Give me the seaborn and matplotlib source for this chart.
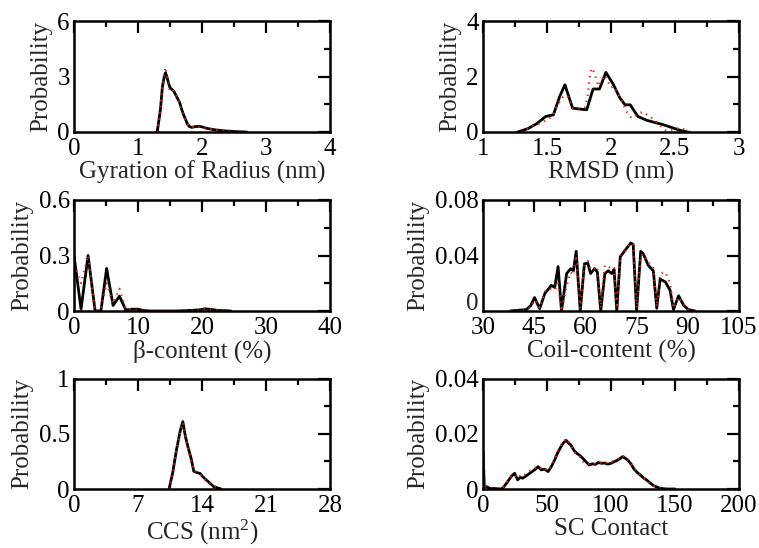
import matplotlib
matplotlib.use("Agg")
import matplotlib.pyplot as plt
import seaborn as sns
from matplotlib.ticker import MultipleLocator, FuncFormatter

# ---------------- data ----------------
rg_x = [1.30, 1.35, 1.38, 1.41, 1.43, 1.45, 1.48, 1.50, 1.53, 1.56, 1.59, 1.62, 1.65, 1.68, 1.71, 1.74, 1.77,
        1.80, 1.84, 1.88, 1.92, 1.96, 2.00, 2.05, 2.10, 2.15, 2.20, 2.25, 2.30, 2.35, 2.40, 2.45, 2.50, 2.55,
        2.60, 2.65, 2.70]
rg_sim = [0.0, 1.2, 2.4, 3.0, 3.2, 3.0, 2.6, 2.4, 2.3, 2.2, 2.0, 1.8, 1.6, 1.25, 0.95, 0.7, 0.45, 0.3, 0.25,
          0.28, 0.3, 0.3, 0.28, 0.22, 0.18, 0.15, 0.12, 0.1, 0.08, 0.06, 0.05, 0.04, 0.03, 0.02, 0.01, 0.005, 0.0]
rg_ref = [0.0, 1.3, 2.5, 3.2, 3.5, 3.1, 2.4, 2.25, 2.35, 2.2, 2.05, 1.75, 1.6, 1.2, 0.9, 0.65, 0.45, 0.32, 0.25,
          0.3, 0.32, 0.28, 0.3, 0.2, 0.19, 0.14, 0.12, 0.09, 0.08, 0.07, 0.04, 0.04, 0.03, 0.02, 0.01, 0.01, 0.0]

rmsd_x = [1.27, 1.35, 1.42, 1.49, 1.55, 1.60, 1.64, 1.70, 1.75, 1.81, 1.86, 1.91, 1.96, 2.02, 2.07, 2.11, 2.15,
          2.21, 2.28, 2.41, 2.54, 2.60]
rmsd_sim = [0.0, 0.12, 0.3, 0.56, 0.62, 1.29, 1.7, 0.86, 0.83, 0.80, 1.55, 1.55, 2.15, 1.7, 1.22, 0.98, 0.98,
            0.56, 0.42, 0.26, 0.06, 0.0]
rmsd_ref_x = [1.30, 1.38, 1.45, 1.52, 1.55, 1.57, 1.60, 1.63, 1.66, 1.70, 1.75, 1.80, 1.82, 1.83, 1.85, 1.87,
              1.90, 1.95, 2.00, 2.02, 2.04, 2.08, 2.12, 2.16, 2.22, 2.25, 2.32, 2.38, 2.43, 2.50, 2.54, 2.58, 2.62]
rmsd_ref = [0.0, 0.2, 0.32, 0.5, 0.62, 0.9, 1.1, 1.3, 1.3, 0.86, 0.85, 0.9, 1.4, 1.9, 2.3, 2.15, 1.65, 2.05,
            1.6, 1.65, 1.5, 1.15, 0.75, 0.5, 0.68, 0.72, 0.5, 0.26, 0.05, 0.1, 0.15, 0.08, 0.0]

beta_x = [0, 1.1, 2.2, 3.3, 4.2, 5.1, 6.1, 7.1, 8.1, 9.0, 10.0, 11.0, 12.0, 14, 16, 17.5, 18.5, 19.5, 20.5,
          21.5, 22.5, 23.5, 24.5]
beta_sim = [0.3, 0.01, 0.3, 0.0, 0.0, 0.23, 0.03, 0.08, 0.005, 0.01, 0.01, 0.002, 0.0, 0.0, 0.0, 0.002, 0.004,
            0.006, 0.012, 0.008, 0.003, 0.002, 0.0]
beta_ref = [0.25, 0.15, 0.3, 0.0, 0.01, 0.15, 0.04, 0.12, 0.01, 0.01, 0.005, 0.002, 0.0, 0.0, 0.0, 0.002, 0.003,
            0.005, 0.01, 0.007, 0.003, 0.001, 0.0]

coil_x = [38.0, 40, 42.7, 44, 45.1, 46.6, 48.1, 50.0, 51.0, 52.0, 53.0, 54.5, 55.7, 56.5, 57.3, 58.5, 59.7,
          60.7, 61.5, 62.7, 63.5, 64.5, 65.7, 66.7, 67.7, 68.4, 69.2, 70.2, 71.6, 73.3, 74.0, 75.0, 76.2, 77.0,
          78.4, 79.9, 80.9, 81.9, 83.4, 84.8, 85.8, 87.3, 88.8, 90.2, 92.1]
coil_sim = [0.0, 0.0005, 0.001, 0.004, 0.0097, 0.0017, 0.0125, 0.0185, 0.017, 0.032, 0.0, 0.027, 0.0305, 0.029,
            0.043, 0.0, 0.034, 0.0346, 0.027, 0.0305, 0.028, 0.0, 0.027, 0.029, 0.027, 0.030, 0.0, 0.039, 0.0437,
            0.049, 0.048, 0.0, 0.043, 0.041, 0.033, 0.029, 0.002, 0.023, 0.021, 0.015, 0.001, 0.011, 0.004,
            0.001, 0.0]
coil_ref = [0.0, 0.0005, 0.001, 0.003, 0.008, 0.002, 0.014, 0.016, 0.015, 0.02, 0.0, 0.018, 0.028, 0.026, 0.04,
            0.002, 0.033, 0.036, 0.03, 0.031, 0.032, 0.002, 0.033, 0.032, 0.03, 0.031, 0.002, 0.04, 0.043, 0.049,
            0.048, 0.002, 0.04, 0.041, 0.035, 0.031, 0.003, 0.027, 0.028, 0.02, 0.002, 0.01, 0.005, 0.001, 0.0]

ccs_x = [10.4, 10.8, 11.2, 11.6, 11.9, 12.2, 12.5, 12.8, 13.1, 13.4, 13.8, 14.1, 14.5, 14.9, 15.3, 15.7, 16.1]
ccs_sim = [0.0, 0.15, 0.35, 0.52, 0.61, 0.47, 0.37, 0.28, 0.16, 0.15, 0.14, 0.11, 0.08, 0.05, 0.02, 0.01, 0.0]
ccs_ref = [0.0, 0.13, 0.36, 0.5, 0.6, 0.48, 0.36, 0.27, 0.17, 0.15, 0.13, 0.11, 0.07, 0.05, 0.03, 0.01, 0.0]

sc_x = [0, 1, 3, 5, 8, 11, 14, 16, 19, 22, 24.7, 27, 29, 31, 34, 36.5, 39, 41, 43, 45.5, 48, 50.8, 53, 56, 58,
        61, 63, 65, 67, 68.5, 71, 73, 75.5, 78, 80.5, 83, 85.5, 88, 90, 92.5, 95, 97.5, 100, 102.5, 105, 107,
        109, 111, 113.5, 116, 118, 120.5, 123, 125.5, 128, 130.5, 133, 135.5, 138, 141, 144, 147, 150]
sc_sim = [0.014, 0.001, 0.0008, 0.0003, 0.0002, 0.0001, 0.0, 0.0006, 0.0025, 0.0045, 0.0057, 0.0033, 0.0042,
          0.0039, 0.0048, 0.0057, 0.0065, 0.0072, 0.0081, 0.0069, 0.0072, 0.0063, 0.0078, 0.0105, 0.0128,
          0.0154, 0.0168, 0.0176, 0.0165, 0.016, 0.0140, 0.0130, 0.0122, 0.0111, 0.0098, 0.0087, 0.0091,
          0.0089, 0.0096, 0.0093, 0.0094, 0.0090, 0.0093, 0.0099, 0.0104, 0.0110, 0.0117, 0.0112, 0.0103,
          0.0088, 0.0072, 0.0060, 0.0050, 0.0040, 0.0032, 0.0022, 0.0013, 0.0008, 0.0003, 0.0001, 0.0, 0.0, 0.0]
sc_ref = [0.012, 0.0012, 0.0009, 0.0004, 0.0002, 0.0001, 0.0, 0.0008, 0.0028, 0.0047, 0.0052, 0.0038, 0.0047,
          0.0045, 0.0058, 0.0066, 0.0072, 0.0078, 0.0083, 0.0075, 0.0076, 0.0066, 0.0080, 0.0110, 0.0132,
          0.0158, 0.0172, 0.0182, 0.0170, 0.0158, 0.0138, 0.0125, 0.0118, 0.0100, 0.0092, 0.0090, 0.0088,
          0.0093, 0.0098, 0.0095, 0.0092, 0.0096, 0.0097, 0.0102, 0.0108, 0.0115, 0.0120, 0.0118, 0.0106,
          0.0090, 0.0075, 0.0062, 0.0052, 0.0042, 0.0030, 0.0020, 0.0012, 0.0006, 0.0003, 0.0001, 0.0, 0.0, 0.0]

x_labels = ["Gyration of Radius (nm)", "RMSD (nm)", "\u03b2-content (%)", "Coil-content (%)",
            "CCS (nm$^{2}$)", "SC Contact"]

# ---------------- style ----------------
sns.set_style("white")
plt.rcParams["font.family"] = ["Liberation Serif", "DejaVu Serif"]
plt.rcParams["mathtext.fontset"] = "custom"
plt.rcParams["mathtext.rm"] = "Liberation Serif"
plt.rcParams["mathtext.it"] = "Liberation Serif:italic"

FS = 18
fig = plt.figure(figsize=(7.59, 5.48), dpi=100)
W, H = 759.0, 548.0
lefts = [74, 483]
tops = [21, 200, 378.5]
bottoms = [132, 311, 489]
aw = 256

panels = [
    dict(x=rg_x, s=rg_sim, rx=rg_x, r=rg_ref, xlim=(0, 4), ylim=(0, 6), xmaj=1, xmin=0.5, ymaj=3, ymin=1.5),
    dict(x=rmsd_x, s=rmsd_sim, rx=rmsd_ref_x, r=rmsd_ref, xlim=(1, 3), ylim=(0, 4), xmaj=0.5, xmin=0.25, ymaj=2, ymin=1),
    dict(x=beta_x, s=beta_sim, rx=beta_x, r=beta_ref, xlim=(0, 40), ylim=(0, 0.6), xmaj=10, xmin=5, ymaj=0.3, ymin=0.15),
    dict(x=coil_x, s=coil_sim, rx=coil_x, r=coil_ref, xlim=(30, 105), ylim=(0, 0.08), xmaj=15, xmin=7.5, ymaj=0.04, ymin=0.02),
    dict(x=ccs_x, s=ccs_sim, rx=ccs_x, r=ccs_ref, xlim=(0, 28), ylim=(0, 1), xmaj=7, xmin=3.5, ymaj=0.5, ymin=0.25),
    dict(x=sc_x, s=sc_sim, rx=sc_x, r=sc_ref, xlim=(0, 200), ylim=(0, 0.04), xmaj=50, xmin=25, ymaj=0.02, ymin=0.01),
]

fmt = FuncFormatter(lambda v, p: "0" if abs(v) < 1e-12 else f"{v:g}")
fmt_no0 = FuncFormatter(lambda v, p: "" if abs(v) < 1e-12 else f"{v:g}")

for i, p in enumerate(panels):
    row, col = divmod(i, 2)
    l = lefts[col]
    t = tops[row]
    b = bottoms[row]
    ax = fig.add_axes([l / W, 1 - b / H, aw / W, (b - t) / H])
    sns.lineplot(x=p["x"], y=p["s"], ax=ax, color="black", lw=2.0, estimator=None, sort=False)
    sns.lineplot(x=p["rx"], y=p["r"], ax=ax, color="#d42a2a", lw=1.6, estimator=None, sort=False,
                 linestyle=(0, (0.6, 2.2)))
    ax.set_xlim(*p["xlim"])
    ax.set_ylim(*p["ylim"])
    ax.xaxis.set_major_locator(MultipleLocator(p["xmaj"]))
    ax.xaxis.set_minor_locator(MultipleLocator(p["xmin"]))
    ax.yaxis.set_major_locator(MultipleLocator(p["ymaj"]))
    ax.yaxis.set_minor_locator(MultipleLocator(p["ymin"]))
    ax.xaxis.set_major_formatter(fmt)
    ax.yaxis.set_major_formatter(fmt_no0 if i == 3 else fmt)
    ax.tick_params(which="both", direction="in", top=True, right=True, width=1.6, colors="black",
                   labelsize=FS)
    ax.tick_params(axis="x", which="major", pad=4)
    ax.tick_params(axis="y", which="major", pad=3)
    ax.tick_params(which="major", length=8.5)
    ax.tick_params(which="minor", length=4.5)
    for sp in ax.spines.values():
        sp.set_linewidth(1.8)
        sp.set_color("black")
    ax.set_xlabel(x_labels[i], fontsize=FS, labelpad=1)
    ax.set_ylabel("Probability", fontsize=FS, labelpad=4)
    ax.set_facecolor("white")
    if i == 3:
        # the "0" of the coil panel sits a little higher, clear of the "30"
        ax.text(-0.016, 0.06, "0", transform=ax.transAxes, ha="right", va="center", fontsize=FS)

fig.savefig("out.png", dpi=100, facecolor="white")
